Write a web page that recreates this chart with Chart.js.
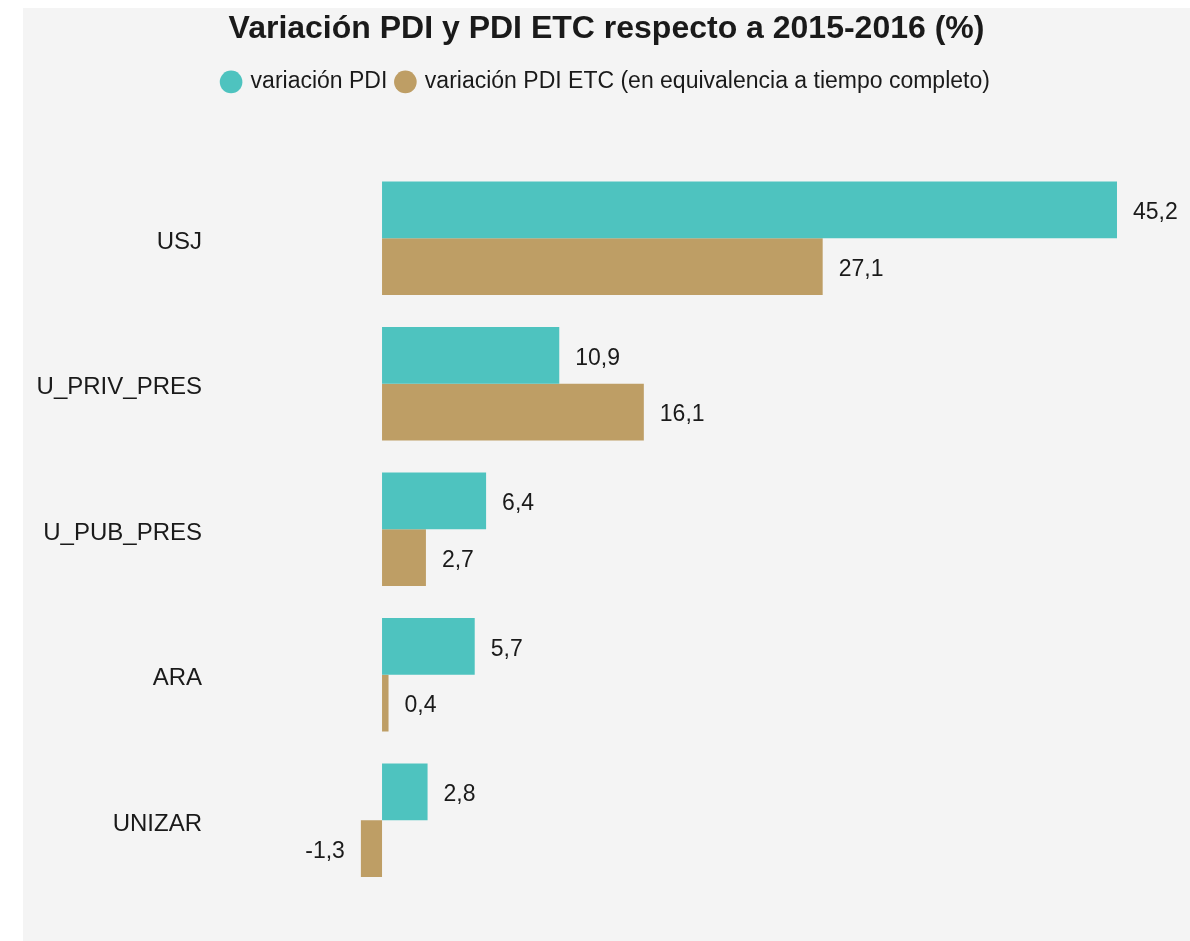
<!DOCTYPE html>
<html>
<head>
<meta charset="utf-8">
<script src="https://cdn.jsdelivr.net/npm/chart.js@4.4.0/dist/chart.umd.min.js"></script>
<style>
  body { margin: 0; background: #ffffff; }
  #panel { position: absolute; left: 23px; top: 8px; width: 1167px; height: 933px; background: #f4f4f4; }
</style>
</head>
<body>
<div id="panel"><canvas id="chart"></canvas></div>
<script>
// datos
var categorias = ['USJ', 'U_PRIV_PRES', 'U_PUB_PRES', 'ARA', 'UNIZAR'];
var variacionPDI = [45.2, 10.9, 6.4, 5.7, 2.8];
var variacionETC = [27.1, 16.1, 2.7, 0.4, -1.3];

var fuente = '"Liberation Sans", Arial, sans-serif';

// etiquetas de valor al final de cada barra
var etiquetasValor = {
    id: 'etiquetasValor',
    afterDatasetsDraw: function(chart) {
        var ctx = chart.ctx;
        ctx.save();
        ctx.font = '23px ' + fuente;
        ctx.fillStyle = '#1a1a1a';
        ctx.textBaseline = 'middle';
        chart.data.datasets.forEach(function(ds, i) {
            var meta = chart.getDatasetMeta(i);
            meta.data.forEach(function(bar, j) {
                var v = ds.data[j];
                var txt = v.toFixed(1).replace('.', ',');
                if (v >= 0) {
                    ctx.textAlign = 'left';
                    ctx.fillText(txt, bar.x + 16, bar.y + 3);
                } else {
                    ctx.textAlign = 'right';
                    ctx.fillText(txt, bar.x - 16, bar.y + 3);
                }
            });
        });
        ctx.restore();
    }
};

// espacio extra debajo de la leyenda
var margenLeyenda = {
    id: 'margenLeyenda',
    beforeInit: function(chart) {
        var fitOriginal = chart.legend.fit;
        chart.legend.fit = function() {
            fitOriginal.bind(chart.legend)();
            this.height += 62;
        };
    }
};

var ctx = document.getElementById('chart').getContext('2d');
new Chart(ctx, {
    type: 'bar',
    data: {
        labels: categorias,
        datasets: [{
            label: 'variación PDI',
            data: variacionPDI,
            backgroundColor: '#4ec3bf'
        }, {
            label: 'variación PDI ETC (en equivalencia a tiempo completo)',
            data: variacionETC,
            backgroundColor: '#be9e65'
        }]
    },
    options: {
        indexAxis: 'y',
        responsive: true,
        maintainAspectRatio: false,
        animation: false,
        categoryPercentage: 0.78,
        barPercentage: 1,
        layout: { padding: { left: 0, right: 0, top: 0, bottom: 48 } },
        scales: {
            x: {
                display: false,
                min: -10.58,
                max: 49.69
            },
            y: {
                grid: { display: false, drawTicks: false },
                border: { display: false },
                ticks: {
                    color: '#1a1a1a',
                    padding: 8,
                    labelOffset: 4,
                    font: { family: fuente, size: 24 }
                },
                afterFit: function(scale) { scale.width = 187; }
            }
        },
        plugins: {
            title: {
                display: true,
                text: 'Variación PDI y PDI ETC respecto a 2015-2016 (%)',
                color: '#1a1a1a',
                font: { family: fuente, size: 32, weight: 'bold' },
                padding: { top: 2, bottom: 12 }
            },
            legend: {
                labels: {
                    usePointStyle: true,
                    pointStyle: 'circle',
                    boxWidth: 16,
                    boxHeight: 16,
                    color: '#1a1a1a',
                    font: { family: fuente, size: 23 }
                }
            },
            tooltip: { enabled: false }
        }
    },
    plugins: [etiquetasValor, margenLeyenda]
});
</script>
</body>
</html>
